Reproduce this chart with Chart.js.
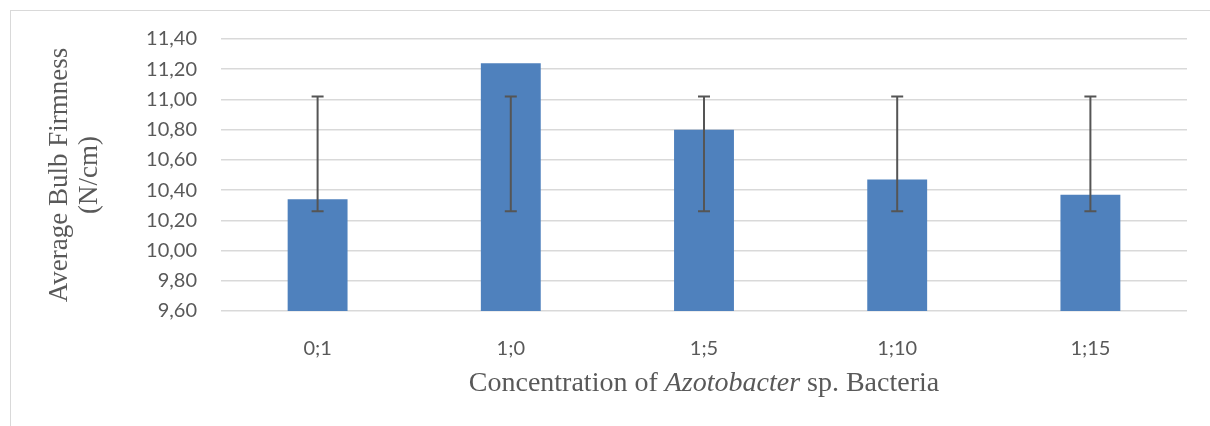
<!DOCTYPE html>
<html>
<head>
<meta charset="utf-8">
<script src="https://cdn.jsdelivr.net/npm/chart.js@4.4.1/dist/chart.umd.min.js"></script>
<style>
  html, body { margin: 0; padding: 0; background: #fff; }
  #wrap { position: relative; width: 1210px; height: 426px; overflow: hidden; }
  #frame { position: absolute; left: 10px; top: 10px; width: 1230px; height: 450px; border: 1px solid #d9d9d9; box-sizing: border-box; }
  canvas { position: absolute; left: 0; top: 0; }
</style>
</head>
<body>
<div id="wrap">
  <div id="frame"></div>
  <canvas id="chart" width="1210" height="426"></canvas>
</div>
<script>
// data
const categories = ['0;1', '1;0', '1;5', '1;10', '1;15'];
const firmness = [10.34, 11.24, 10.80, 10.47, 10.37];
const errLow = [10.26, 10.26, 10.26, 10.26, 10.26];
const errHigh = [11.02, 11.02, 11.02, 11.02, 11.02];
const yTicks = [9.6, 9.8, 10.0, 10.2, 10.4, 10.6, 10.8, 11.0, 11.2, 11.4];
const yTitle = ['Average Bulb Firmness', '(N/cm)'];
// [text, italic]
const xTitleParts = [['Concentration of ', false], ['Azotobacter', true], [' sp. Bacteria', false]];

const textColor = '#595959';
const serif = '"Liberation Serif", "Times New Roman", serif';

// error bars drawn on top of the bars
const errorBars = {
  id: 'errorBars',
  afterDatasetsDraw(chart) {
    const ctx = chart.ctx;
    const yScale = chart.scales.y;
    const meta = chart.getDatasetMeta(0);
    ctx.save();
    ctx.strokeStyle = '#555555';
    ctx.lineWidth = 2;
    meta.data.forEach((bar, i) => {
      const x = bar.x;
      const top = yScale.getPixelForValue(errHigh[i]);
      const bot = yScale.getPixelForValue(errLow[i]);
      ctx.beginPath();
      ctx.moveTo(x, top); ctx.lineTo(x, bot);
      ctx.moveTo(x - 6, top); ctx.lineTo(x + 6, top);
      ctx.moveTo(x - 6, bot); ctx.lineTo(x + 6, bot);
      ctx.stroke();
    });
    ctx.restore();
  }
};

// x axis title with the italic genus name
const xTitle = {
  id: 'xTitle',
  afterDraw(chart) {
    const ctx = chart.ctx;
    const area = chart.chartArea;
    const fonts = {
      false: '28px ' + serif,
      true: 'italic 28px ' + serif
    };
    ctx.save();
    ctx.fillStyle = textColor;
    ctx.textBaseline = 'middle';
    ctx.textAlign = 'left';
    let total = 0;
    xTitleParts.forEach(p => {
      ctx.font = fonts[p[1]];
      total += ctx.measureText(p[0]).width;
    });
    let x = (area.left + area.right) / 2 - total / 2;
    xTitleParts.forEach(p => {
      ctx.font = fonts[p[1]];
      ctx.fillText(p[0], x, 384);
      x += ctx.measureText(p[0]).width;
    });
    ctx.restore();
  }
};

new Chart(document.getElementById('chart'), {
  type: 'bar',
  data: {
    labels: categories,
    datasets: [{
      data: firmness,
      backgroundColor: '#4f81bd',
      borderWidth: 0,
      categoryPercentage: 1,
      barPercentage: 0.31
    }]
  },
  options: {
    responsive: false,
    animation: false,
    layout: { padding: { left: 0, right: 23, top: 39, bottom: 0 } },
    plugins: {
      legend: { display: false },
      tooltip: { enabled: false }
    },
    scales: {
      x: {
        grid: { display: false },
        border: { display: false },
        ticks: {
          color: textColor,
          font: { family: 'Lato', size: 20 },
          padding: 18
        },
        afterFit: scale => { scale.height = 115; }
      },
      y: {
        min: 9.6,
        max: 11.4,
        afterBuildTicks: scale => { scale.ticks = yTicks.map(v => ({ value: v })); },
        afterFit: scale => { scale.width = 221; },
        grid: { color: '#d9d9d9', lineWidth: 1.5, drawTicks: false },
        border: { display: false },
        ticks: {
          color: textColor,
          font: { family: 'Lato', size: 20 },
          padding: 24,
          callback: v => Number(v).toFixed(2).replace('.', ',')
        },
        title: {
          display: true,
          text: yTitle,
          color: textColor,
          font: { family: serif, size: 27, lineHeight: 1.1 },
          padding: { top: 45, bottom: 0 }
        }
      }
    }
  },
  plugins: [errorBars, xTitle]
});
</script>
</body>
</html>
